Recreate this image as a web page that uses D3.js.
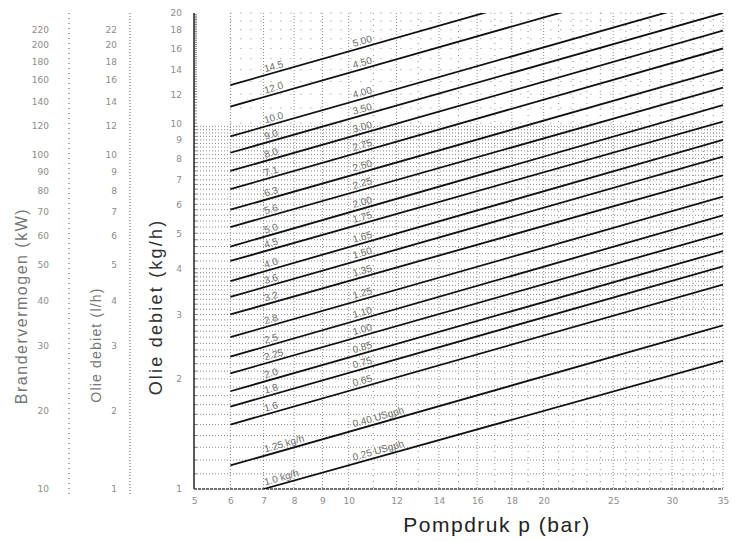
<!DOCTYPE html>
<meta charset="utf-8">

<head>
  <title>Pompdruk nomogram</title>
</head>

<style>
  body { margin: 0; background: #fff; }
  text { font-family: "Liberation Sans", Arial, sans-serif; }
</style>

<body>
  <svg width="739" height="541"></svg>

  <script src="https://cdn.jsdelivr.net/npm/d3@7/dist/d3.min.js"></script>
  <script>
    // axis ticks
    var pressureTicks = [5, 6, 7, 8, 9, 10, 12, 14, 16, 18, 20, 25, 30, 35];
    var kgTicks = [1, 2, 3, 4, 5, 6, 7, 8, 9, 10, 12, 14, 16, 18, 20];
    var lhTicks = [1, 2, 3, 4, 5, 6, 7, 8, 9, 10, 12, 14, 16, 18, 20, 22];
    var kwTicks = [10, 20, 30, 40, 50, 60, 70, 80, 90, 100, 120, 140, 160, 180, 200, 220];

    // nozzle lines: label at 7 bar (kg/h), US gph label, flow at start and at 35 bar
    var kgLabels = ['14.5', '12.0', '10.0', '9.0', '8.0', '7.1', '6.3', '5.6', '5.0', '4.5', '4.0',
      '3.6', '3.2', '2.8', '2.5', '2.25', '2.0', '1.8', '1.6', '1.25  kg/h', '1.0  kg/h'];
    var usLabels = ['5.00', '4.50', '4.00', '3.50', '3.00', '2.75', '2.50', '2.25', '2.00', '1.75', '1.65',
      '1.50', '1.35', '1.25', '1.10', '1.00', '0.85', '0.75', '0.65', '0.40  USgph', '0.25  USgph'];
    var startPressure = [6, 6, 6, 6, 6, 6, 6, 6, 6, 6, 6, 6, 6, 6, 6, 6, 6, 6, 6, 6, 7];
    var flowStart = [12.7, 11.1, 9.2, 8.3, 7.4, 6.6, 5.8, 5.2, 4.6, 4.2, 3.7,
      3.35, 3.0, 2.6, 2.3, 2.07, 1.85, 1.68, 1.5, 1.16, 1.0];
    var flowEnd = [30.7, 26.8, 22.2, 20.0, 17.9, 16.0, 14.0, 12.5, 11.2, 10.1, 9.0,
      8.1, 7.2, 6.3, 5.6, 5.0, 4.47, 4.06, 3.62, 2.8, 2.24];

    var svg = d3.select('svg');

    // pressure axis is logarithmic in (p + 5)
    var pOffset = 5;
    var xLog = d3.scaleLog().domain([5 + pOffset, 35 + pOffset]).range([194, 723]);
    function x(p) { return xLog(p + pOffset); }
    var y = d3.scaleLog().domain([1, 20]).range([489, 13]);
    var density = 0.82;
    var yLh = d3.scaleLog().domain([1 / density, 20 / density]).range([489, 13]).clamp(true);
    var yKw = d3.scaleLog().domain([10 / density, 200 / density]).range([489, 13]).clamp(true);

    var grid = svg.append('g').attr('stroke', '#8a8a8a').attr('stroke-dasharray', '1,2');

    // horizontal grid
    var hMinor = d3.range(1.1, 4, 0.1).concat(d3.range(4, 10, 0.2));
    grid.selectAll('.h-minor')
      .data(hMinor)
      .enter()
      .append('line')
      .attr('x1', x(5)).attr('x2', x(35))
      .attr('y1', d => y(d)).attr('y2', d => y(d));
    grid.selectAll('.h-major')
      .data(d3.range(10, 21, 1))
      .enter()
      .append('line')
      .attr('x1', x(6)).attr('x2', x(35))
      .attr('stroke-dasharray', '1,9')
      .attr('y1', d => y(d)).attr('y2', d => y(d));

    // vertical grid
    var vGrid = [6, 7, 8, 9, 10, 11, 12, 13, 14, 15, 16, 17, 18, 19, 20, 21, 22, 23, 24, 25, 26, 27, 28, 29, 30, 31, 32, 33, 34, 35];
    grid.selectAll('.v')
      .data(vGrid)
      .enter()
      .append('line')
      .attr('x1', d => x(d)).attr('x2', d => x(d))
      .attr('y1', y(20)).attr('y2', y(1))
      .attr('stroke-dasharray', d => pressureTicks.indexOf(d) >= 0 ? '1,2' : '1,5');

    // left axis lines
    svg.append('line')
      .attr('x1', x(5)).attr('x2', x(5))
      .attr('y1', y(20)).attr('y2', y(1))
      .attr('stroke', '#222').attr('stroke-width', 1.5);
    svg.append('line')
      .attr('x1', x(5)).attr('x2', x(35))
      .attr('y1', y(1)).attr('y2', y(1))
      .attr('stroke', '#444').attr('stroke-width', 1.3)
      .attr('stroke-dasharray', '3,1');
    svg.append('g')
      .selectAll('line')
      .data(d3.range(1.1, 20, 0.1).filter(v => v < 4 || Math.round(v * 10) % 2 === 0))
      .enter()
      .append('line')
      .attr('x1', x(5)).attr('x2', x(5) + 3)
      .attr('y1', d => y(d)).attr('y2', d => y(d))
      .attr('stroke', '#333').attr('stroke-width', 0.6);

    // dotted scale columns
    [69, 130].forEach(function (cx, i) {
      svg.append('line')
        .attr('x1', cx).attr('x2', cx)
        .attr('y1', y(20)).attr('y2', y(1) + 6)
        .attr('stroke', '#555')
        .attr('stroke-dasharray', i === 0 ? '1,4' : '1,2');
    });

    function styleAxis(g, size) {
      g.select('.domain').remove();
      g.selectAll('text')
        .attr('fill', '#8c8c8c')
        .style('font-size', size + 'px')
        .style('font-family', '"DejaVu Sans", sans-serif');
    }

    svg.append('g')
      .attr('transform', 'translate(194,0)')
      .call(d3.axisLeft(y).tickValues(kgTicks).tickFormat(d3.format('d')).tickSize(0).tickPadding(12))
      .call(styleAxis, 9);
    svg.append('g')
      .attr('transform', 'translate(130,0)')
      .call(d3.axisLeft(yLh).tickValues(lhTicks).tickFormat(d3.format('d')).tickSize(0).tickPadding(13))
      .call(styleAxis, 9);
    svg.append('g')
      .attr('transform', 'translate(69,0)')
      .call(d3.axisLeft(yKw).tickValues(kwTicks).tickFormat(d3.format('d')).tickSize(0).tickPadding(20))
      .call(styleAxis, 9);
    svg.append('g')
      .attr('transform', 'translate(0,489)')
      .call(d3.axisBottom(xLog).tickValues(pressureTicks.map(p => p + pOffset))
        .tickFormat(v => Math.round(v - pOffset)).tickSize(0).tickPadding(9))
      .call(styleAxis, 9);

    // nozzle lines
    svg.append('clipPath').attr('id', 'plot-clip')
      .append('rect')
      .attr('x', x(5)).attr('y', y(20))
      .attr('width', x(35) - x(5)).attr('height', y(1) - y(20));

    var nozzles = flowStart.map(function (f, i) {
      return { p0: startPressure[i], f0: f, p1: 35, f1: flowEnd[i], kg: kgLabels[i], us: usLabels[i] };
    });
    var lineGen = d3.line().x(d => x(d[0])).y(d => y(d[1]));

    svg.append('g')
      .attr('clip-path', 'url(#plot-clip)')
      .selectAll('path')
      .data(nozzles)
      .enter()
      .append('path')
      .attr('d', d => lineGen([[d.p0, d.f0], [d.p1, d.f1]]))
      .attr('fill', 'none')
      .attr('stroke', '#111')
      .attr('stroke-width', 1.8);

    // labels along the lines
    var slope = nozzles.map(d => (y(d.f1) - y(d.f0)) / (x(d.p1) - x(d.p0)));
    var angle = Math.atan(slope[0]) * 180 / Math.PI;
    function labelAt(sel, pAt, key) {
      sel.selectAll('text.' + key)
        .data(nozzles)
        .enter()
        .append('text')
        .attr('class', key)
        .attr('transform', function (d, i) {
          var lx = x(pAt);
          var ly = y(d.f0) + (lx - x(d.p0)) * slope[i] - 3;
          return 'translate(' + lx + ',' + ly + ') rotate(' + angle + ')';
        })
        .attr('fill', '#6a6a6a')
        .style('font-size', '10px')
        .text(d => d[key]);
    }
    var labels = svg.append('g');
    labelAt(labels, 7.05, 'kg');
    labelAt(labels, 10.2, 'us');

    // axis titles
    function vTitle(tx, ty, size, spacing, color, txt) {
      svg.append('text')
        .attr('transform', 'translate(' + tx + ',' + ty + ') rotate(-90)')
        .attr('text-anchor', 'middle')
        .attr('fill', color)
        .style('font-size', size + 'px')
        .style('letter-spacing', spacing + 'px')
        .text(txt);
    }
    vTitle(27, 306, 16, 1.5, '#777', 'Brandervermogen (kW)');
    vTitle(101, 345, 14, 1.2, '#777', 'Olie debiet (l/h)');
    vTitle(162, 307, 18, 2.2, '#333', 'Olie debiet (kg/h)');

    svg.append('text')
      .attr('x', 497).attr('y', 532)
      .attr('text-anchor', 'middle')
      .attr('fill', '#222')
      .style('font-size', '21px')
      .style('letter-spacing', '1.5px')
      .text('Pompdruk  p (bar)');
  </script>
</body>

</html>
